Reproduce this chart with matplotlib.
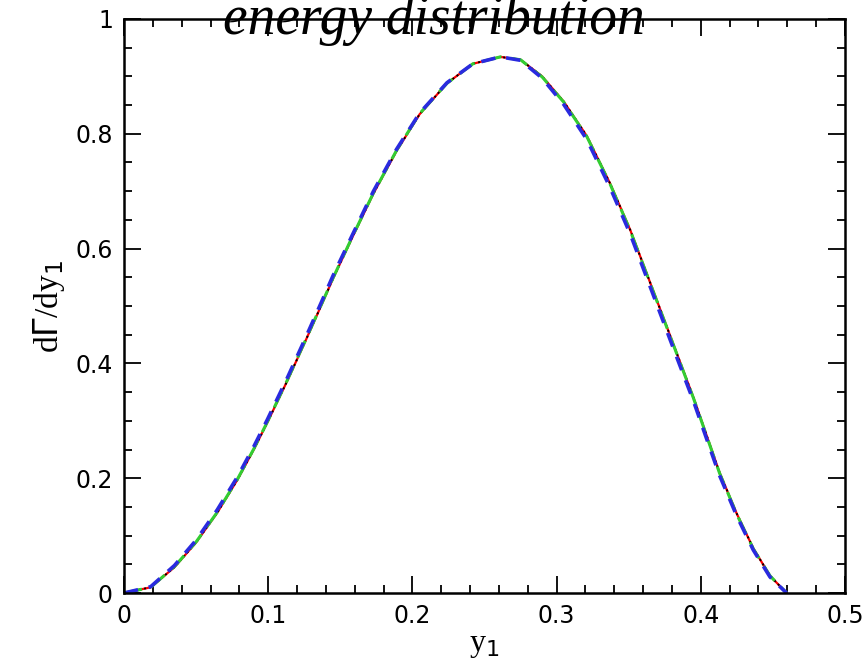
import matplotlib
matplotlib.use('Agg')
import matplotlib.pyplot as plt
from matplotlib.ticker import MultipleLocator

# Values
y1 = [0.0, 0.0185, 0.035, 0.050, 0.0647, 0.0786, 0.090, 0.0994, 0.1133, 0.126,
      0.1375, 0.145, 0.159, 0.173, 0.189, 0.205, 0.224, 0.242, 0.261, 0.275,
      0.290, 0.305, 0.321, 0.337, 0.351, 0.365, 0.383, 0.395, 0.404, 0.413,
      0.425, 0.4364, 0.448, 0.4595]
rate_red = [0.0, 0.010, 0.045, 0.088, 0.140, 0.197, 0.250, 0.297, 0.370, 0.440,
            0.505, 0.548, 0.623, 0.696, 0.770, 0.834, 0.888, 0.922, 0.934, 0.929,
            0.900, 0.856, 0.796, 0.714, 0.633, 0.540, 0.420, 0.340, 0.275, 0.210,
            0.138, 0.078, 0.030, 0.0]
rate_blue = [0.0, 0.011, 0.048, 0.092, 0.145, 0.202, 0.255, 0.302, 0.375, 0.445,
             0.510, 0.553, 0.627, 0.700, 0.773, 0.836, 0.889, 0.922, 0.934, 0.928,
             0.897, 0.851, 0.790, 0.707, 0.626, 0.533, 0.413, 0.334, 0.269, 0.205,
             0.134, 0.075, 0.028, 0.0]
rate_green = [0.0, 0.010, 0.046, 0.089, 0.141, 0.198, 0.251, 0.298, 0.371, 0.441,
              0.506, 0.549, 0.624, 0.697, 0.771, 0.835, 0.888, 0.922, 0.934, 0.929,
              0.899, 0.855, 0.795, 0.713, 0.632, 0.539, 0.419, 0.339, 0.274, 0.209,
              0.137, 0.077, 0.030, 0.0]

fig = plt.figure(figsize=(8.67, 6.71), dpi=100)
ax = fig.add_axes([0.143, 0.1162, 0.8316, 0.8555])

ax.plot(y1, rate_red, '-', color='red', lw=1.6)
ax.plot(y1, rate_red, ':', color='black', lw=1.4)
ax.plot(y1, rate_green, '--', color='limegreen', lw=2.2, dashes=(6, 3))
ax.plot(y1, rate_blue, '--', color='#2a2adf', lw=2.6, dashes=(4, 3))

ax.set_xlim(0, 0.5)
ax.set_ylim(0, 1)
ax.xaxis.set_minor_locator(MultipleLocator(0.02))
ax.yaxis.set_minor_locator(MultipleLocator(0.05))
ax.set_xticks([0, 0.1, 0.2, 0.3, 0.4, 0.5])
ax.set_xticklabels(['0', '0.1', '0.2', '0.3', '0.4', '0.5'])
ax.set_yticks([0, 0.2, 0.4, 0.6, 0.8, 1])
ax.set_yticklabels(['0', '0.2', '0.4', '0.6', '0.8', '1'])
ax.tick_params(which='both', direction='in', top=True, right=True, labelsize=17, width=1.3)
ax.tick_params(which='major', length=12, pad=8)
ax.tick_params(which='minor', length=6)
for s in ax.spines.values():
    s.set_linewidth(1.8)

ax.set_xlabel(r'y$_1$', fontsize=23, family='Liberation Serif', labelpad=2)
ax.set_ylabel(r'd$\Gamma$/dy$_1$', fontsize=24, family='Liberation Serif', labelpad=6)

fig.text(0.5, 0.95, 'energy distribution', fontsize=40, style='italic',
         family='Liberation Serif', ha='center', va='baseline')

fig.savefig('out.png', dpi=100)
